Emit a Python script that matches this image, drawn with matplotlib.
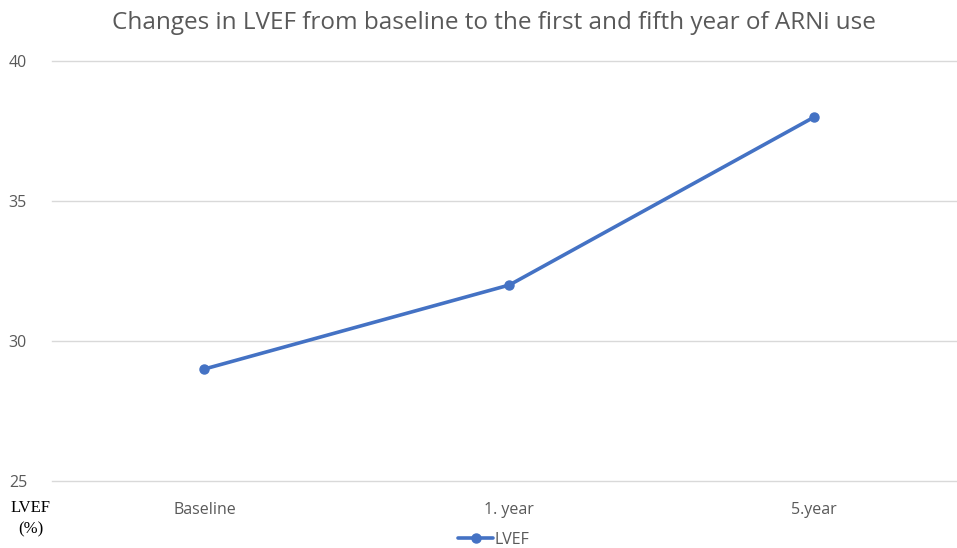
import matplotlib
matplotlib.use("Agg")
import matplotlib.pyplot as plt

categories = ["Baseline", "1. year", "5.year"]
lvef = [29, 32, 38]
y_ticks = [25, 30, 35, 40]

plt.rcParams['font.family'] = ['Open Sans', 'DejaVu Sans']

fig = plt.figure(figsize=(9.57, 5.48), dpi=100)
ax = fig.add_axes([52/957, 1 - 481/548, 1 - 52/957, (481 - 61)/548])

x = list(range(len(categories)))
ax.plot(x, lvef, color="#4472C4", linewidth=2.6, marker="o", markersize=6.5,
        label="LVEF", solid_capstyle="round")

ax.set_ylim(25, 40)
ax.set_yticks(y_ticks)
ax.set_xlim(-0.5, 2.468)
ax.set_xticks(x)
ax.set_xticklabels(categories)
ax.grid(axis="y", color="#d9d9d9", linewidth=1)
for gl in ax.get_ygridlines():
    gl.set_clip_on(False)
ax.set_axisbelow(True)
for s in ax.spines.values():
    s.set_visible(False)
ax.tick_params(axis="both", length=0, labelsize=11.5, labelcolor="#595959")
ax.tick_params(axis="x", pad=15)
ax.tick_params(axis="y", pad=18)

fig.text(494/957, 1 - 23/548, "Changes in LVEF from baseline to the first and fifth year of ARNi use",
         ha="center", va="center", fontsize=17.5, color="#595959")

fig.text(31/957, 1 - 519/548, "LVEF\n(%)", ha="center", va="center",
         fontsize=12, family="Liberation Serif", color="black", linespacing=1.45)

fig.legend(loc="center", bbox_to_anchor=(494/957, 1 - 540/548), frameon=False,
           fontsize=11.5, labelcolor="#595959", handlelength=2.2, handletextpad=0.1)

fig.savefig("out.png", dpi=100)
